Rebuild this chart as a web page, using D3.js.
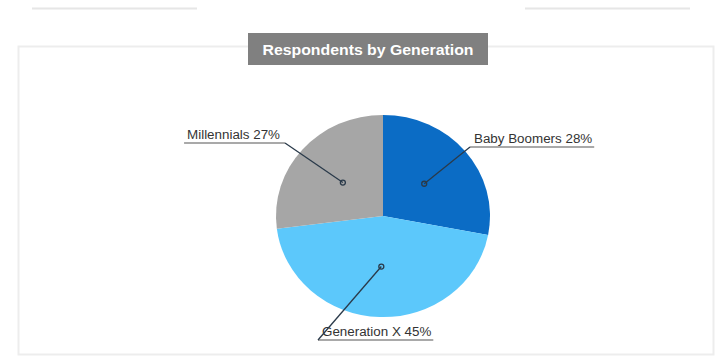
<!DOCTYPE html>
<html>
<head>
<meta charset="utf-8">
<script src="https://cdn.jsdelivr.net/npm/d3@7"></script>
<style>
  html, body { margin: 0; padding: 0; background: #fff; }
  svg { display: block; }
</style>
</head>
<body>
<svg id="chart" width="728" height="357"></svg>
<script>
// Respondents by generation (share of total, %)
const generations = ["Baby Boomers", "Generation X", "Millennials"];
const shares = [28, 45, 27];
const sliceColors = ["#0b6cc5", "#5cc8fb", "#a6a6a6"];
const chartTitle = "Respondents by Generation";

const svg = d3.select("#chart");

// faint page rules and the panel frame
const frame = svg.append("g").attr("fill", "none");
frame.append("line").attr("x1", 32).attr("x2", 197).attr("y1", 8.5).attr("y2", 8.5)
  .attr("stroke", "#e6e6e6").attr("stroke-width", 2);
frame.append("line").attr("x1", 525).attr("x2", 690).attr("y1", 8.5).attr("y2", 8.5)
  .attr("stroke", "#e6e6e6").attr("stroke-width", 2);
frame.append("rect").attr("x", 18.5).attr("y", 46.5).attr("width", 695).attr("height", 308)
  .attr("stroke", "#ededed").attr("stroke-width", 2);

// title badge
const title = svg.append("g");
title.append("rect").attr("x", 248).attr("y", 33).attr("width", 240).attr("height", 32)
  .attr("fill", "#808080");
const titleText = title.append("text").attr("x", 368).attr("y", 55)
  .attr("text-anchor", "middle")
  .attr("font-family", "Liberation Sans, Arial, sans-serif")
  .attr("font-weight", "bold").attr("font-size", 15)
  .attr("fill", "#fff").text(chartTitle);
// stretch the title to span its badge
titleText.attr("textLength", 211).attr("lengthAdjust", "spacingAndGlyphs");

// pie
const cx = 383, cy = 216, r = 107, ky = 0.945;
const data = generations.map((g, i) => ({ name: g, value: shares[i], color: sliceColors[i] }));
const pie = d3.pie().value(d => d.value).sort(null);
const arc = d3.arc().innerRadius(0).outerRadius(r);
const arcs = pie(data);

svg.append("g")
  .attr("transform", `translate(${cx},${cy}) scale(1,${ky})`)
  .selectAll("path").data(arcs).join("path")
  .attr("d", arc).attr("fill", d => d.data.color);

// leader lines with underlined labels
const labelLayout = {
  "Baby Boomers": { ex: 470, ey: 147, side: "right" },
  "Generation X": { ex: 318, ey: 340, side: "right" },
  "Millennials": { ex: 285, ey: 143, side: "left" }
};

const labels = svg.append("g")
  .attr("font-family", "Liberation Sans, Arial, sans-serif")
  .attr("font-size", 12.5).attr("fill", "#333");

arcs.forEach(a => {
  const c = arc.centroid(a);
  const px = cx + c[0], py = cy + c[1] * ky;
  const L = labelLayout[a.data.name];
  const t = labels.append("text")
    .attr("y", L.ey - 4)
    .text(`${a.data.name} ${a.data.value}%`);
  // slightly widened glyphs
  const w0 = t.node().getComputedTextLength();
  const w = w0 * 1.07;
  t.attr("textLength", w).attr("lengthAdjust", "spacingAndGlyphs");
  let x0, x1;
  if (L.side === "right") {
    t.attr("x", L.ex + 4);
    x0 = L.ex; x1 = L.ex + w + 6;
  } else {
    t.attr("x", L.ex - 5 - w);
    x0 = L.ex - w - 8; x1 = L.ex;
  }
  labels.append("line").attr("x1", x0).attr("x2", x1).attr("y1", L.ey).attr("y2", L.ey)
    .attr("stroke", "#555").attr("stroke-width", 1.2);
  labels.append("line").attr("x1", L.ex).attr("y1", L.ey).attr("x2", px).attr("y2", py)
    .attr("stroke", "#2a3a4a").attr("stroke-width", 1.3);
  labels.append("circle").attr("cx", px).attr("cy", py).attr("r", 2.5)
    .attr("fill", "none").attr("stroke", "#2a3a4a").attr("stroke-width", 1.3);
});
</script>
</body>
</html>
